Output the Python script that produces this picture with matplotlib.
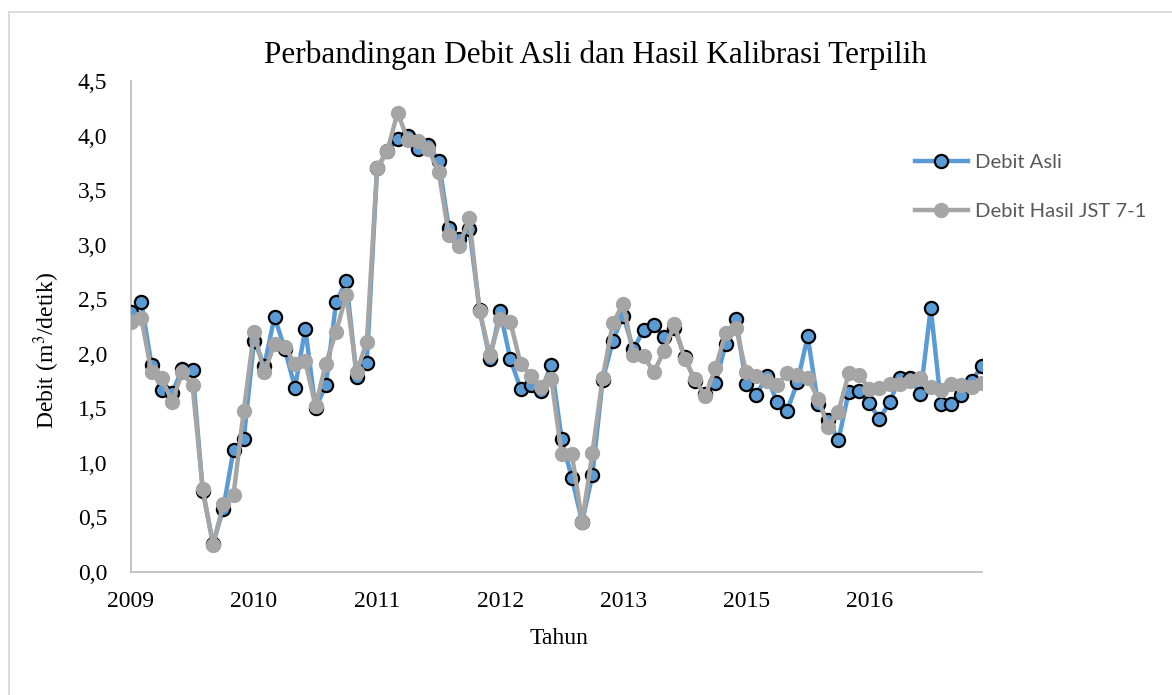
import matplotlib
matplotlib.use("Agg")
import matplotlib.pyplot as plt
from matplotlib.lines import Line2D
from matplotlib.ticker import FuncFormatter

# debit bulanan (m3/detik), Jan 2009 - Des 2016
debit_asli = [2.38, 2.47, 1.90, 1.67, 1.64, 1.86, 1.85, 0.74, 0.26, 0.58, 1.12, 1.22,
              2.12, 1.89, 2.34, 2.04, 1.69, 2.23, 1.50, 1.71, 2.47, 2.67, 1.79, 1.92,
              3.70, 3.86, 3.97, 4.00, 3.88, 3.91, 3.77, 3.15, 3.05, 3.14, 2.40, 1.95,
              2.39, 1.95, 1.68, 1.71, 1.66, 1.90, 1.22, 0.86, 0.46, 0.89, 1.76, 2.12,
              2.35, 2.04, 2.22, 2.26, 2.15, 2.24, 1.97, 1.75, 1.63, 1.73, 2.09, 2.32,
              1.72, 1.62, 1.80, 1.56, 1.48, 1.74, 2.16, 1.54, 1.39, 1.21, 1.65, 1.66,
              1.55, 1.40, 1.56, 1.78, 1.78, 1.63, 2.42, 1.54, 1.54, 1.62, 1.75, 1.89]

debit_jst = [2.29, 2.33, 1.83, 1.78, 1.56, 1.83, 1.71, 0.76, 0.25, 0.62, 0.71, 1.48,
             2.20, 1.83, 2.09, 2.06, 1.91, 1.93, 1.52, 1.91, 2.20, 2.54, 1.83, 2.11,
             3.70, 3.86, 4.21, 3.96, 3.95, 3.88, 3.67, 3.09, 2.99, 3.24, 2.39, 1.99,
             2.32, 2.29, 1.91, 1.80, 1.70, 1.77, 1.08, 1.08, 0.46, 1.09, 1.78, 2.28,
             2.46, 1.99, 1.98, 1.83, 2.03, 2.27, 1.95, 1.77, 1.61, 1.87, 2.19, 2.24,
             1.83, 1.80, 1.75, 1.71, 1.82, 1.81, 1.78, 1.59, 1.33, 1.47, 1.82, 1.81,
             1.68, 1.69, 1.72, 1.72, 1.75, 1.78, 1.70, 1.67, 1.72, 1.71, 1.70, 1.73]

tahun = ['2009', '2010', '2011', '2012', '2013', '2015', '2016']

serif = 'Liberation Serif'
biru = '#5B9BD5'
abu = '#A5A5A5'
garis = '#D9D9D9'

fig = plt.figure(figsize=(11.72, 6.95), dpi=100)
ax = fig.add_axes([131/1172, 1 - 572/695, (982 - 131)/1172, (572 - 81)/695])

x = list(range(len(debit_asli)))
ax.plot(x, debit_asli, color=biru, lw=3.2, marker='o', ms=9.5,
        mfc=biru, mec='black', mew=1.6, zorder=3)
ax.plot(x, debit_jst, color=abu, lw=3.2, marker='o', ms=10,
        mfc=abu, mec=abu, mew=1, zorder=4)

ax.set_xlim(0, len(x) - 1)
ax.set_ylim(0, 4.5)
ax.set_yticks([i * 0.5 for i in range(10)])
ax.yaxis.set_major_formatter(FuncFormatter(lambda v, p: f'{v:.1f}'.replace('.', ',')))
ax.set_xticks(list(range(0, len(x), 12))[:len(tahun)])
ax.set_xticklabels(tahun)

for lbl in ax.get_xticklabels() + ax.get_yticklabels():
    lbl.set_fontfamily(serif)
    lbl.set_fontsize(17)
ax.tick_params(axis='both', length=0)
ax.tick_params(axis='y', pad=17)
ax.tick_params(axis='x', pad=14)

for s in ['top', 'right']:
    ax.spines[s].set_visible(False)
for s in ['left', 'bottom']:
    ax.spines[s].set_color('#BFBFBF')
    ax.spines[s].set_linewidth(1.3)

fig.text(595/1172, 1 - 55/695, 'Perbandingan Debit Asli dan Hasil Kalibrasi Terpilih',
         ha='center', va='center', fontfamily=serif, fontsize=22.5)
fig.text(559/1172, 1 - 639/695, 'Tahun', ha='center', va='center',
         fontfamily=serif, fontsize=17)
fig.text(47/1172, 1 - 350/695, 'Debit (m$^3$/detik)', ha='center', va='center',
         rotation=90, fontfamily=serif, fontsize=17, math_fontfamily='stix')

handles = [
    Line2D([], [], color=biru, lw=3.2, marker='o', ms=9.5, mfc=biru, mec='black', mew=1.6),
    Line2D([], [], color=abu, lw=3.2, marker='o', ms=10, mfc=abu, mec=abu),
]
leg = fig.legend(handles, ['Debit Asli', 'Debit Hasil JST 7-1'],
                 loc='center left', bbox_to_anchor=(915/1172, 1 - 187/695),
                 frameon=False, borderpad=0, borderaxespad=0,
                 handlelength=2.6, handletextpad=0.35, labelspacing=1.6,
                 prop={'family': 'Lato', 'size': 14.6})
for t in leg.get_texts():
    t.set_color('#595959')

# bingkai luar grafik
fig.add_artist(Line2D([9/1172, 1], [1 - 12/695, 1 - 12/695], color=garis, lw=1.3))
fig.add_artist(Line2D([9/1172, 9/1172], [0, 1 - 12/695], color=garis, lw=1.3))

fig.savefig('out.png', dpi=100)
